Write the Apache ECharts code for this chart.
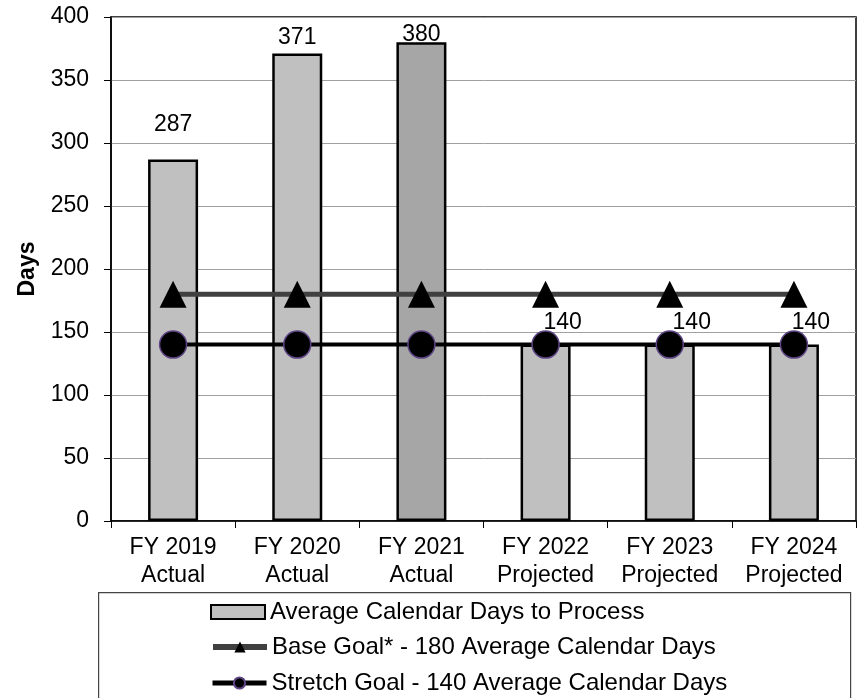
<!DOCTYPE html>
<html>
<head>
<meta charset="utf-8">
<script src="https://cdn.jsdelivr.net/npm/echarts@6/dist/echarts.min.js"></script>
<style>html,body{margin:0;padding:0;background:#fff}#c{width:860px;height:698px}</style>
</head>
<body>
<div id="c"></div>
<script>
const categories = ['FY 2019\nActual', 'FY 2020\nActual', 'FY 2021\nActual', 'FY 2022\nProjected', 'FY 2023\nProjected', 'FY 2024\nProjected'];
const avgDays = [287, 371, 380, 140, 140, 140];
const baseGoal = [180, 180, 180, 180, 180, 180];
const stretchGoal = [140, 140, 140, 140, 140, 140];
const seriesNames = ['Average Calendar Days to Process', 'Base Goal* - 180 Average Calendar Days', 'Stretch Goal - 140 Average Calendar Days'];
const yTicks = { min: 0, max: 400, interval: 50 };

// styling only
const barColors = ['#c0c0c0', '#c0c0c0', '#a6a6a6', '#c0c0c0', '#c0c0c0', '#c0c0c0'];
const labelOffsets = [[0, -18], [0, 1], [0, 9], [17, -5], [22, -5], [17, -5]];
const FONT = 'Liberation Sans, Arial, sans-serif';
const legendTops = [600, 635, 671];

const legendBase = {
  orient: 'vertical', left: 210, padding: 0,
  itemWidth: 54, itemHeight: 14, itemGap: 0,
  textStyle: { fontFamily: FONT, fontSize: 24, color: '#000' }
};

const chart = echarts.init(document.getElementById('c'), null, { renderer: 'canvas' });
chart.setOption({
  animation: false,
  backgroundColor: '#fff',
  textStyle: { fontFamily: FONT },
  grid: { left: 111, right: 4, top: 17, bottom: 177, show: true, borderColor: '#000', borderWidth: 1.5, backgroundColor: 'transparent' },
  graphic: [{
    type: 'rect', left: 98, top: 592, z: -1,
    shape: { width: 752, height: 120 },
    style: { fill: '#fff', stroke: '#444', lineWidth: 1.2 }
  }],
  legend: [
    Object.assign({}, legendBase, {
      top: legendTops[0],
      data: [{ name: seriesNames[0], icon: 'rect', itemStyle: { color: '#c0c0c0', borderColor: '#000', borderWidth: 2 } }]
    }),
    Object.assign({}, legendBase, {
      top: legendTops[1],
      lineStyle: { width: 6, color: '#404040' },
      data: [{ name: seriesNames[1] }]
    }),
    Object.assign({}, legendBase, {
      top: legendTops[2],
      lineStyle: { width: 5, color: '#000' },
      data: [{ name: seriesNames[2] }]
    })
  ],
  xAxis: {
    type: 'category', data: categories,
    axisLine: { lineStyle: { color: '#000', width: 1.5 } },
    axisTick: { show: true, length: 7, lineStyle: { color: '#000' } },
    axisLabel: { fontFamily: FONT, fontSize: 23, color: '#000', lineHeight: 28, margin: 13, interval: 0 }
  },
  yAxis: {
    type: 'value', min: yTicks.min, max: yTicks.max, interval: yTicks.interval,
    name: 'Days', nameLocation: 'middle', nameGap: 72,
    nameTextStyle: { fontFamily: FONT, fontSize: 23, fontWeight: 'bold', color: '#000' },
    axisLine: { show: true, lineStyle: { color: '#000', width: 1.5 } },
    axisTick: { show: true, length: 7, lineStyle: { color: '#000' } },
    axisLabel: { fontFamily: FONT, fontSize: 23, color: '#000', margin: 22 },
    splitLine: { lineStyle: { color: '#a0a0a0', width: 1 } }
  },
  series: [
    {
      name: seriesNames[0], type: 'bar', barWidth: 50, z: 2,
      itemStyle: { color: '#c0c0c0', borderColor: '#000', borderWidth: 2.5 },
      data: avgDays.map((v, i) => ({
        value: v,
        itemStyle: { color: barColors[i] },
        label: { offset: labelOffsets[i] }
      })),
      label: { show: true, position: 'top', distance: 5, fontFamily: FONT, fontSize: 23, color: '#000' }
    },
    {
      name: seriesNames[1], type: 'line', data: baseGoal, z: 3,
      symbol: 'triangle', symbolSize: 27,
      lineStyle: { color: '#404040', width: 5 },
      itemStyle: { color: '#000', borderColor: '#000', borderWidth: 0 }
    },
    {
      name: seriesNames[2], type: 'line', data: stretchGoal, z: 4,
      symbol: 'circle', symbolSize: 27,
      lineStyle: { color: '#000', width: 4 },
      itemStyle: { color: '#000', borderColor: '#5e4585', borderWidth: 1.5 }
    }
  ]
});
</script>
</body>
</html>
